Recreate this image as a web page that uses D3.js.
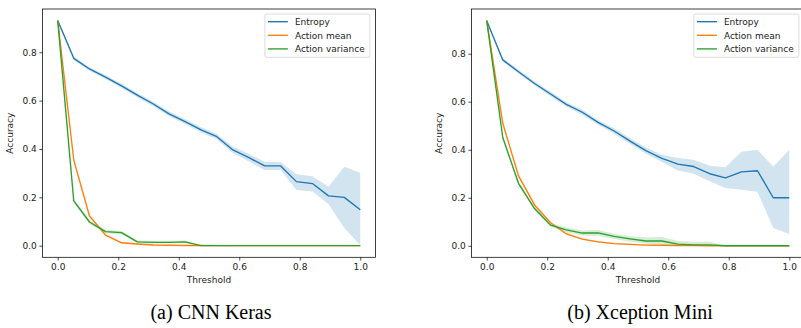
<!DOCTYPE html>
<html><head><meta charset="utf-8">
<script src="https://cdn.jsdelivr.net/npm/d3@7"></script>
<style>body{margin:0;background:#fff}svg{display:block}</style>
</head><body>
<script>
const thresholds = [0, 0.053, 0.105, 0.158, 0.211, 0.263, 0.316, 0.368, 0.421, 0.474, 0.526, 0.579, 0.632, 0.684, 0.737, 0.789, 0.842, 0.895, 0.947, 1.0];
const seriesNames = ["Entropy", "Action mean", "Action variance"];
const xTicks = [0, 0.2, 0.4, 0.6, 0.8, 1.0];
const yTicks = [0, 0.2, 0.4, 0.6, 0.8];
const captions = ["(a) CNN Keras", "(b) Xception Mini"];

// Panel (a) CNN Keras
const entA    = [0.931,0.775,0.731,0.697,0.661,0.623,0.586,0.545,0.513,0.479,0.451,0.396,0.364,0.330,0.330,0.265,0.257,0.206,0.200,0.149];
const entA_lo = [0.926,0.768,0.724,0.689,0.652,0.614,0.577,0.535,0.503,0.468,0.440,0.383,0.348,0.313,0.313,0.230,0.224,0.172,0.073,0.003];
const entA_hi = [0.936,0.782,0.738,0.705,0.670,0.632,0.595,0.555,0.523,0.490,0.462,0.409,0.380,0.347,0.345,0.295,0.287,0.244,0.327,0.302];
const meanA    = [0.931,0.354,0.123,0.044,0.012,0.007,0.003,0.002,0.001,0.001,0,0,0,0,0,0,0,0,0,0];
const meanA_lo = [0.926,0.345,0.117,0.040,0.009,0.005,0.002,0.001,0,0,0,0,0,0,0,0,0,0,0,0];
const meanA_hi = [0.936,0.363,0.129,0.049,0.015,0.009,0.004,0.003,0.002,0.002,0,0,0,0,0,0,0,0,0,0];
const varA    = [0.931,0.185,0.098,0.058,0.054,0.016,0.014,0.014,0.016,0,0,0,0,0,0,0,0,0,0,0];
const varA_lo = [0.926,0.178,0.090,0.051,0.047,0.011,0.009,0.009,0.010,0,0,0,0,0,0,0,0,0,0,0];
const varA_hi = [0.936,0.192,0.106,0.066,0.061,0.022,0.020,0.020,0.022,0,0,0,0,0,0,0,0,0,0,0];

// Panel (b) Xception Mini
const entB    = [0.9375,0.774,0.725,0.676,0.632,0.589,0.556,0.514,0.478,0.436,0.396,0.364,0.340,0.330,0.300,0.283,0.308,0.3125,0.200,0.200];
const entB_lo = [0.933,0.767,0.717,0.668,0.623,0.580,0.546,0.504,0.467,0.424,0.383,0.349,0.313,0.300,0.269,0.241,0.233,0.225,0.074,0.049];
const entB_hi = [0.942,0.781,0.733,0.684,0.641,0.598,0.566,0.524,0.489,0.448,0.409,0.379,0.365,0.358,0.333,0.327,0.392,0.400,0.329,0.400];
const meanB    = [0.9375,0.510,0.291,0.170,0.096,0.050,0.028,0.016,0.009,0.006,0.003,0.002,0.001,0.001,0,0,0,0,0,0];
const meanB_lo = [0.933,0.503,0.284,0.164,0.091,0.046,0.024,0.013,0.006,0.003,0.001,0,0,0,0,0,0,0,0,0];
const meanB_hi = [0.942,0.517,0.298,0.176,0.101,0.055,0.032,0.020,0.012,0.009,0.006,0.004,0.003,0.002,0,0,0,0,0,0];
const varB    = [0.9375,0.451,0.260,0.155,0.086,0.066,0.053,0.054,0.039,0.029,0.020,0.020,0.007,0.004,0.004,0,0,0,0,0];
const varB_lo = [0.933,0.444,0.252,0.148,0.079,0.056,0.042,0.042,0.028,0.017,0.008,0.005,0.001,0,0,0,0,0,0,0];
const varB_hi = [0.942,0.458,0.268,0.162,0.093,0.076,0.064,0.066,0.050,0.040,0.034,0.037,0.020,0.017,0.017,0,0,0,0,0];

const yDomainA = [-0.048, 0.979];
const yDomainB = [-0.048, 0.986];
const colors = ["#1f77b4", "#ff7f0e", "#2ca02c"];

const W = 801, H = 328;
const svg = d3.select("body").append("svg").attr("width", W).attr("height", H)
  .style("font-family", "'DejaVu Sans', sans-serif");

function panel(left, yDomain, series, caption) {
  const plotW = 332.8, top = 9, bottom = 257.3;
  const x = d3.scaleLinear().domain([-0.05, 1.05]).range([left, left + plotW]);
  const y = d3.scaleLinear().domain(yDomain).range([bottom, top]);
  const g = svg.append("g");

  series.forEach((s, k) => {
    const area = d3.area().x((d, i) => x(thresholds[i])).y0((d, i) => y(s.lo[i])).y1((d, i) => y(s.hi[i]));
    g.append("path").datum(s.mid).attr("d", area).attr("fill", colors[k]).attr("fill-opacity", 0.2);
  });
  series.forEach((s, k) => {
    const line = d3.line().x((d, i) => x(thresholds[i])).y(d => y(d));
    g.append("path").datum(s.mid).attr("d", line).attr("fill", "none")
      .attr("stroke", colors[k]).attr("stroke-width", 1.35).attr("stroke-linejoin", "round");
  });

  const xAxis = d3.axisBottom(x).tickValues(xTicks).tickFormat(d3.format(".1f")).tickSize(3.2).tickPadding(2.8);
  const yAxis = d3.axisLeft(y).tickValues(yTicks).tickFormat(d3.format(".1f")).tickSize(3.2).tickPadding(2.6);
  const gx = g.append("g").attr("transform", `translate(0,${bottom})`).call(xAxis);
  const gy = g.append("g").attr("transform", `translate(${left},0)`).call(yAxis);
  [gx, gy].forEach(a => {
    a.select(".domain").remove();
    a.selectAll(".tick line").attr("stroke", "#000").attr("stroke-width", 0.7);
    a.selectAll(".tick text").attr("fill", "#222").style("font-size", "9px").style("font-family", "'DejaVu Sans', sans-serif");
  });
  g.append("rect").attr("x", left).attr("y", top).attr("width", plotW).attr("height", bottom - top)
    .attr("fill", "none").attr("stroke", "#000").attr("stroke-width", 0.75);

  g.append("text").attr("x", left + plotW / 2).attr("y", 283).attr("text-anchor", "middle")
    .style("font-size", "9px").attr("fill", "#222").text("Threshold");
  g.append("text").attr("transform", `translate(${left - 29.5},${(top + bottom) / 2}) rotate(-90)`)
    .attr("text-anchor", "middle").style("font-size", "9px").attr("fill", "#222").text("Accuracy");

  const lr = left + plotW - 5.5, lw = 105, lx = lr - lw;
  g.append("rect").attr("x", lx).attr("y", 14).attr("width", lw).attr("height", 43.3).attr("rx", 2)
    .attr("fill", "#fff").attr("fill-opacity", 0.8).attr("stroke", "#d0d0d0").attr("stroke-width", 0.75);
  seriesNames.forEach((n, k) => {
    const yy = 21.7 + k * 13.6;
    g.append("line").attr("x1", lx + 3).attr("x2", lx + 23).attr("y1", yy).attr("y2", yy)
      .attr("stroke", colors[k]).attr("stroke-width", 1.35);
    g.append("text").attr("x", lx + 30).attr("y", yy + 3.2).style("font-size", "9px").attr("fill", "#222").text(n);
  });

  svg.append("text").attr("x", left + plotW / 2 + 2).attr("y", 319).attr("text-anchor", "middle")
    .style("font-family", "'Liberation Serif', 'Times New Roman', serif").style("font-size", "20px")
    .attr("fill", "#000").text(caption);
}

panel(42.6, yDomainA, [
  {mid: entA, lo: entA_lo, hi: entA_hi},
  {mid: meanA, lo: meanA_lo, hi: meanA_hi},
  {mid: varA, lo: varA_lo, hi: varA_hi}
], captions[0]);
panel(471.6, yDomainB, [
  {mid: entB, lo: entB_lo, hi: entB_hi},
  {mid: meanB, lo: meanB_lo, hi: meanB_hi},
  {mid: varB, lo: varB_lo, hi: varB_hi}
], captions[1]);
</script>
</body></html>
